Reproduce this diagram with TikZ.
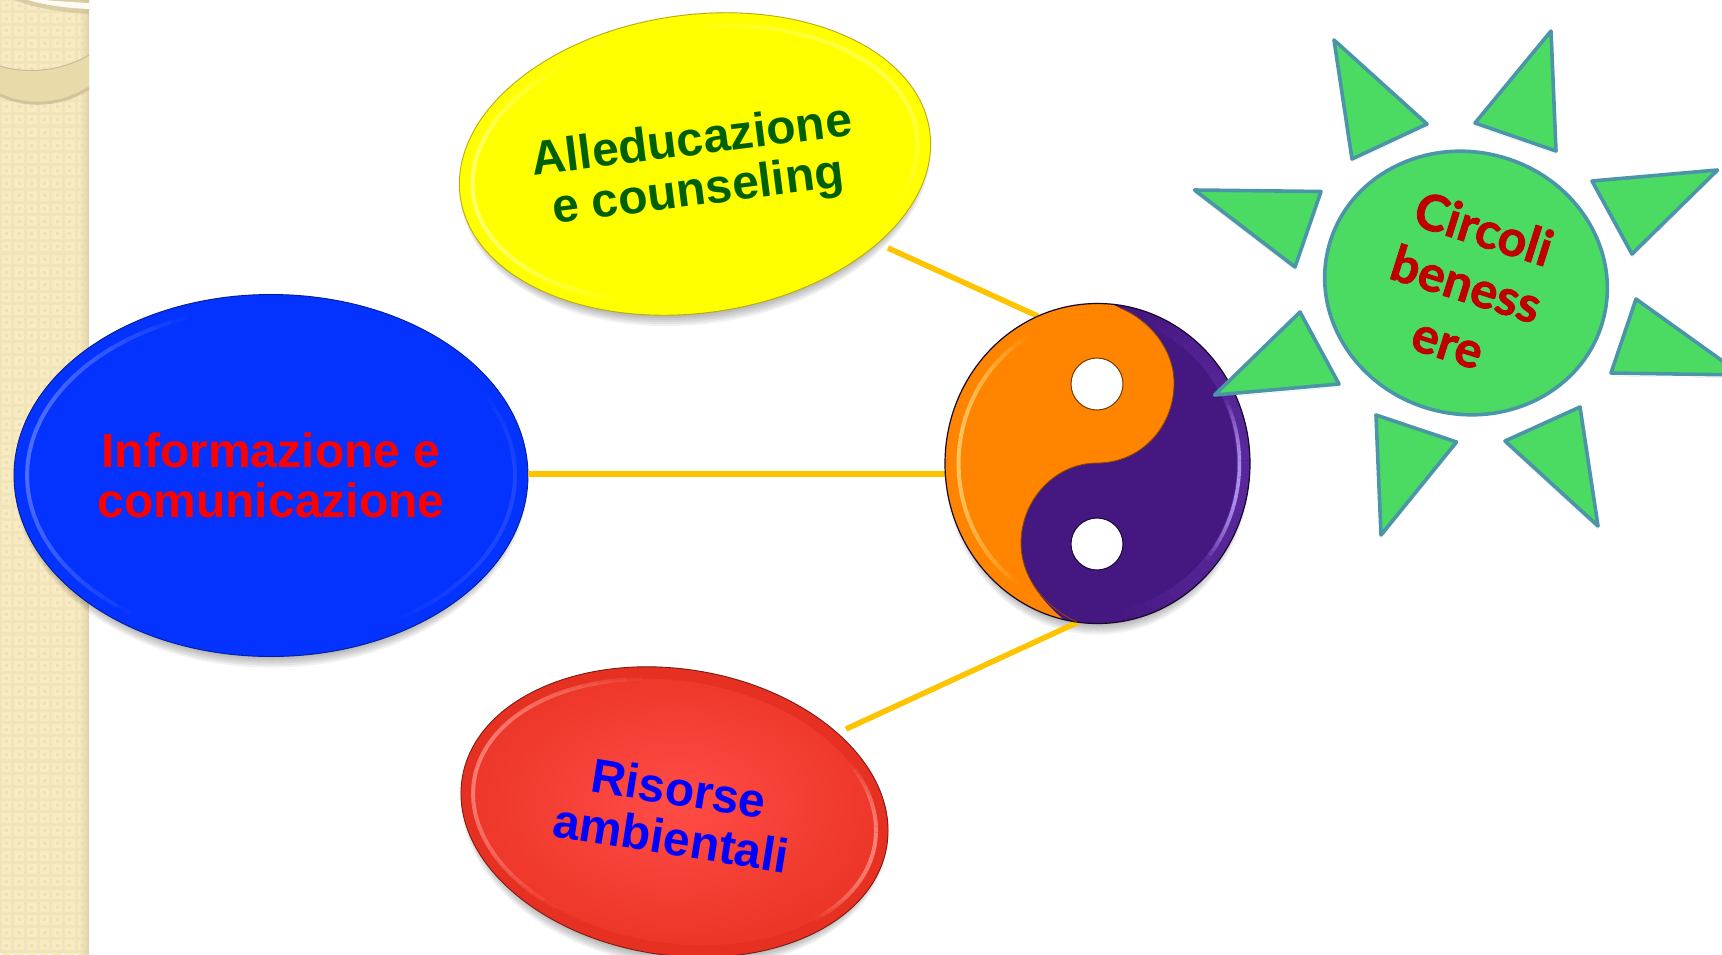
\documentclass[tikz,border=0pt]{standalone}
\usepackage{fontspec}
\setmainfont{Liberation Sans}
\newfontfamily\sunfont{Lato}[BoldFeatures={FakeBold=1.6}]
\usetikzlibrary{shapes.geometric,calc}
\definecolor{side}{HTML}{F1E4B9}
\definecolor{sidelight}{HTML}{F8EBC3}
\definecolor{sidedot}{HTML}{EDE0B4}
\definecolor{sideband}{HTML}{E9DAA9}
\definecolor{sideedge}{HTML}{C9BC96}
\definecolor{gold}{HTML}{FFC400}
\definecolor{sunfill}{HTML}{4CDB62}
\definecolor{sunline}{HTML}{4A96A8}
\definecolor{sunred}{HTML}{C00000}
\definecolor{yingor}{HTML}{FF8500}
\definecolor{yangpu}{HTML}{451780}
\definecolor{yangrim}{HTML}{5B2A9E}
\definecolor{yanghi}{HTML}{B596F2}
\definecolor{yinghi}{HTML}{FFC766}
\definecolor{bluefill}{HTML}{0433FF}
\definecolor{bluehi}{HTML}{6C86FF}
\definecolor{redfill}{HTML}{E63022}
\definecolor{redcore}{HTML}{FF4C46}
\definecolor{redouter}{HTML}{EC3628}
\definecolor{redhi}{HTML}{FF9A90}
\definecolor{yelfill}{HTML}{FFFF00}
\definecolor{yelhi}{HTML}{FFFF90}
\definecolor{yeledge}{HTML}{B8AC10}
\definecolor{textgreen}{HTML}{006000}
\definecolor{textred}{HTML}{FF0000}
\definecolor{textblue}{HTML}{0000FF}
\tikzset{
  blob/.style={ellipse,inner sep=0pt,outer sep=0pt},
  link/.style={draw=gold,line width=5.5pt},
  ray/.style={draw=sunline,fill=sunfill,line width=3.6pt,line join=round,
    preaction={draw=black,draw opacity=.1,fill=none,transform canvas={yshift=-3pt}}},
  lbl/.style={align=center,inner sep=0pt,font=\fontsize{48}{50}\selectfont\bfseries},
}
\newcommand{\softshadow}[5]{%
  \foreach \d in {0,2,...,10}{%
    \pgfmathsetmacro\rxx{#3-\d*0.6}
    \pgfmathsetmacro\ryy{#4+6-\d}
    \fill[black,opacity=0.055,shift={(#1,#2+5)},rotate=#5] (0,0) circle[x radius=\rxx pt,y radius=\ryy pt];
  }}
\newcommand{\glw}{4}
% \gloss{cx}{cy}{a}{b}{rot}{colour}{t0}{t1}{max opacity}
\newcommand{\gloss}[9]{%
  \begin{scope}[shift={(#1,#2)},rotate=#5]
  \foreach \k in {0,...,29}{%
    \pgfmathsetmacro\ta{#7+\k*(#8-(#7))/30}
    \pgfmathsetmacro\tb{#7+(\k+1)*(#8-(#7))/30}
    \pgfmathsetmacro\op{#9*(sin(180*(\k+0.5)/30))^0.8}
    \draw[#6,opacity=\op,line width=\glw pt]
      ({(#3)*cos(\ta)},{(#4)*sin(\ta)}) -- ({(#3)*cos(\tb)},{(#4)*sin(\tb)});
  }
  \end{scope}}
\begin{document}
\begin{tikzpicture}[x=1pt,y=-1pt]
\useasboundingbox (0,0) rectangle (1722,954);
\clip (0,0) rectangle (1722,954);
\fill[white] (0,0) rectangle (1722,954);
% side band
\fill[side] (0,0) rectangle (89,954);
\foreach \i in {0,...,6}{\foreach \j in {0,...,75}{%
  \fill[sidelight] ({\i*12.7+1.5},{\j*12.7+0.5}) rectangle ++(9.6,9.6);
  \fill[sidedot] ({\i*12.7+4.8},{\j*12.7+3.8}) rectangle ++(3,3);
}}
\shade[left color=side,right color=sideedge,opacity=0.45] (80,0) rectangle (89,954);
\fill[sideband] (0,66) .. controls (25,74) and (60,72) .. (89,55) -- (89,87) .. controls (60,106) and (25,106) .. (0,94) -- cycle;
\draw[sideedge,line width=1pt] (0,66) .. controls (25,74) and (60,72) .. (89,55);
\draw[sideedge,opacity=.8,line width=3pt] (0,95) .. controls (25,107) and (60,107) .. (89,88);
\fill[sideedge,opacity=.6] (14,0) .. controls (35,8) and (65,13) .. (89,14) -- (89,0) -- cycle;
\fill[white!80!sidelight] (28,0) .. controls (45,5) and (65,8) .. (89,9) -- (89,3) .. controls (70,2) and (55,1) .. (45,0) -- cycle;

\softshadow{695}{164}{237}{149}{8}
\softshadow{271}{475.5}{257}{181}{0}
\softshadow{674.5}{812}{215}{143}{-9}
\softshadow{1097.5}{463.5}{152.5}{160}{0}

% yellow
\node[blob,draw=yeledge,line width=.9pt,fill=yelfill,minimum width=474pt,minimum height=298pt,rotate=8] (yel) at (695,164) {};
\gloss{695}{164}{224}{136}{8}{yelhi}{115}{240}{0.75}
\gloss{695}{164}{224}{136}{8}{yelhi}{-85}{30}{0.5}
% blue
\node[blob,draw=bluefill!60!black,line width=.9pt,fill=bluefill,minimum width=514pt,minimum height=362pt] (blue) at (271,475.5) {};
\gloss{271}{475.5}{244}{168}{0}{bluehi}{125}{250}{0.7}
\gloss{271}{475.5}{244}{168}{0}{bluehi}{-30}{60}{0.25}
% red
\node[blob,draw=redfill!55!black,line width=.9pt,fill=redfill,minimum width=430pt,minimum height=286pt,rotate=-9] (red) at (674.5,812) {};
\shade[shift={(674.5,812)},rotate=-9,inner color=redcore,outer color=redouter] (0,0) circle[x radius=203pt,y radius=131pt];
\gloss{674.5}{812}{203}{131}{-9}{redhi}{120}{255}{0.7}
\gloss{674.5}{812}{203}{131}{-9}{redhi}{-35}{40}{0.75}

% connectors
\coordinate (yelGap) at (888,248);
\coordinate (redGap) at (846,729);
\node[blob,minimum width=305pt,minimum height=320pt] (yy) at (1097.5,463.5) {};
\draw[link] (yelGap) -- (yy.112);
\draw[link] (blue.east |- yy.184) -- (yy.184);
\draw[link] (redGap) -- (yy.263);

% yin-yang
\begin{scope}
\clip (1097.5,463.5) circle[x radius=152.5pt,y radius=160pt];
\fill[yangpu] (900,280) rectangle (1300,650);
\fill[yingor] (1100,298) -- (1120,308) .. controls (1150,320) and (1174,350) .. (1174,383)
  .. controls (1174,428) and (1140,463) .. (1097,463)
  .. controls (1055,463) and (1021,500) .. (1021,543)
  .. controls (1021,578) and (1045,607) .. (1077,630) -- (930,640) -- (930,290) -- cycle;
\end{scope}
\renewcommand{\glw}{13}
\gloss{1097.5}{463.5}{146}{153.5}{0}{yangrim}{-72}{80}{0.9}
\renewcommand{\glw}{3.5}
\gloss{1097.5}{463.5}{142}{149.5}{0}{yanghi}{-25}{40}{0.95}
\renewcommand{\glw}{4}
\gloss{1097.5}{463.5}{139}{146.5}{0}{yinghi}{125}{240}{0.95}
\draw[black!65!yangpu,line width=1.2pt] (1097.5,463.5) circle[x radius=152.5pt,y radius=160pt];
\draw[black!45!yingor,line width=.8pt] (1120,308) .. controls (1150,320) and (1174,350) .. (1174,383)
  .. controls (1174,428) and (1140,463) .. (1097,463)
  .. controls (1055,463) and (1021,500) .. (1021,543)
  .. controls (1021,578) and (1045,607) .. (1077,622);
\filldraw[fill=white,draw=black!55!yingor,line width=1pt] (1097,384) circle[radius=26pt];
\filldraw[fill=white,draw=black!60!yangpu,line width=1pt] (1097,544) circle[radius=26pt];

% sun
\node[blob,draw=sunline,fill=sunfill,line width=3.6pt,minimum width=284pt,minimum height=262pt,rotate=-15] (sun) at (1466,283) {};
\draw[ray] (1334,40) -- (1427,124) -- (1352,159) -- cycle;
\draw[ray] (1551,31) -- (1556,151) -- (1475,123) -- cycle;
\draw[ray] (1717.5,170) -- (1592,181) -- (1632,254) -- cycle;
\draw[ray] (1636,299) -- (1611,373) -- (1742,375) -- cycle;
\draw[ray] (1580,407) -- (1598,526) -- (1505,441) -- cycle;
\draw[ray] (1376,415) -- (1456.5,442) -- (1381,535) -- cycle;
\draw[ray] (1300,312) -- (1339,384) -- (1214.6,395) -- cycle;
\draw[ray] (1194.5,190) -- (1321,191.5) -- (1295,267) -- cycle;

% texts
\node[lbl,text=textgreen,rotate=7.2] (yelT) at (695,168) {Alleducazione\\e counseling};
\node[lbl,text=textred] (blueT) at (271,475) {Informazione e\\comunicazione};
\node[lbl,text=textblue,rotate=-9] (redT) at (675,813) {Risorse\\ambientali};
\node[align=center,inner sep=0pt,text=sunred,rotate=-17.5,font=\fontsize{50}{58}\selectfont\sunfont\bfseries] (sunT) at (1466,285) {Circoli\\beness\\[3pt]ere};
\end{tikzpicture}
\end{document}
